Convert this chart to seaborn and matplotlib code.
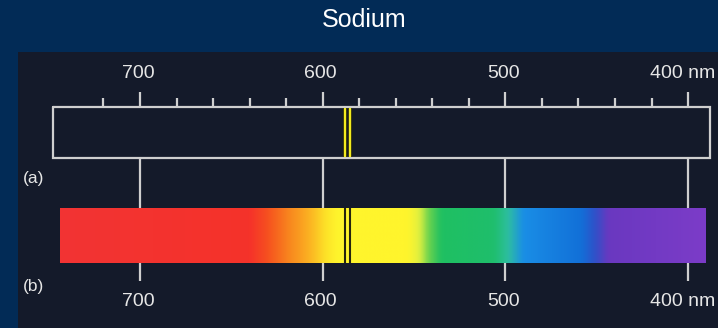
import numpy as np
import matplotlib
matplotlib.use("Agg")
import matplotlib.pyplot as plt
import matplotlib.transforms as mtransforms
from matplotlib.colors import LinearSegmentedColormap
import seaborn as sns

# ---- data -------------------------------------------------------------
title = "Sodium"
major_ticks_nm = [700, 600, 500, 400]
major_labels = ["700", "600", "500", "400 nm"]
minor_ticks_nm = [720, 680, 660, 640, 620, 580, 560, 540, 520,
                  480, 460, 440, 420]
sodium_lines_nm = [588.0, 585.3]          # doublet as drawn on the scale
scale_range_nm = (747.6, 388.0)            # emission box (a)
spectrum_range_nm = (743.8, 390.2)         # continuous spectrum (b)

# colour stops of the visible spectrum (wavelength, colour)
stop_nm = [747, 640, 630, 620, 608, 598, 592, 553, 547, 541, 535,
           506, 498, 490, 458, 450, 443, 390]
stop_colors = ["#f23434", "#f5322a", "#f6521f", "#f8801e", "#fbb022",
               "#fde428", "#fff52c", "#fff52c", "#e0f040", "#60d050",
               "#1fc062", "#1fbe6c", "#2ebfa0", "#1a8ee6", "#1270d8",
               "#3050c8", "#6a38c0", "#7c3cc8"]

# ---- style ------------------------------------------------------------
sns.set_theme(style="dark")
plt.rcParams["font.family"] = ["Liberation Sans", "DejaVu Sans"]

navy = "#022b56"
panel = "#141a2a"
ink = "#e6e6e6"
rule = "#cfcfcf"

fig = plt.figure(figsize=(7.18, 3.28), dpi=100, facecolor=navy)
fig.text(364 / 718, 1 - 20 / 328, title, color="white", fontsize=18,
         ha="center", va="center")

ax = fig.add_axes([18 / 718, 0, 700 / 718, 276 / 328])
ax.set_facecolor(panel)
ax.set_xlim(766.8, 383.6)
ax.set_ylim(328, 52)
ax.set_xticks([])
ax.set_yticks([])
ax.grid(False)
sns.despine(ax=ax, left=True, bottom=True)

# rows of the diagram (axis units)
scale_top, scale_bot = 107, 158
spec_top, spec_bot = 208, 263
major_tip, minor_tip = 92, 98
drop_end = 281
lw = 1.6

# emission box (a)
x0, x1 = scale_range_nm
ax.plot([x0, x1, x1, x0, x0],
        [scale_top, scale_top, scale_bot, scale_bot, scale_top],
        color=rule, lw=lw, solid_joinstyle="miter", zorder=3)
ax.vlines(major_ticks_nm, major_tip, scale_top, color=rule, lw=lw, zorder=3)
ax.vlines(minor_ticks_nm, minor_tip, scale_top, color=rule, lw=lw, zorder=3)

# connectors from the scale down through the spectrum
ax.vlines(major_ticks_nm, scale_bot, drop_end, color=rule, lw=lw, zorder=1)

# sodium emission lines
ax.vlines(sodium_lines_nm, scale_top + 1, scale_bot - 1, color="#2a2a10",
          lw=3.0, zorder=4)
ax.vlines(sodium_lines_nm, scale_top + 1, scale_bot - 1, color="#f2ea1e",
          lw=1.6, zorder=5)

# continuous spectrum (b), lightly smoothed so the hues blend
cmap_pos = (np.array(stop_nm) - stop_nm[0]) / (stop_nm[-1] - stop_nm[0])
spec_cmap = LinearSegmentedColormap.from_list(
    "visible", list(zip(cmap_pos, stop_colors)))
s0, s1 = spectrum_range_nm
wl = np.linspace(s0, s1, 800)
t = (wl - stop_nm[0]) / (stop_nm[-1] - stop_nm[0])
rgb = spec_cmap(np.clip(t, 0, 1))[:, :3]
k = 9
kernel = np.ones(k) / k
padded = np.pad(rgb, ((k // 2, k // 2), (0, 0)), mode="edge")
rgb = np.stack([np.convolve(padded[:, c], kernel, mode="valid")
                for c in range(3)], axis=1)
ax.imshow(rgb[np.newaxis, :, :], extent=[s0, s1, spec_bot, spec_top],
          aspect="auto", interpolation="bilinear", zorder=2)

# sodium absorption lines
ax.vlines(sodium_lines_nm, spec_top, spec_bot, color="#26240e",
          lw=1.5, zorder=3)

# wavelength labels, above the scale and below the spectrum
for nm, lab in zip(major_ticks_nm, major_labels):
    shift = -5 if lab.endswith("nm") else -2
    tr = mtransforms.offset_copy(ax.transData, fig=fig, x=shift, y=0,
                                 units="dots")
    ax.text(nm, 74, lab, color=ink, fontsize=14, ha="center",
            va="center", transform=tr)
    ax.text(nm, 302, lab, color=ink, fontsize=14, ha="center",
            va="center", transform=tr)

# panel letters
ax.text(758.5, 179, "(a)", color=ink, fontsize=12.5, ha="center",
        va="center")
ax.text(758.5, 286, "(b)", color=ink, fontsize=12.5, ha="center",
        va="center")

fig.savefig("out.png", dpi=100, facecolor=navy)
